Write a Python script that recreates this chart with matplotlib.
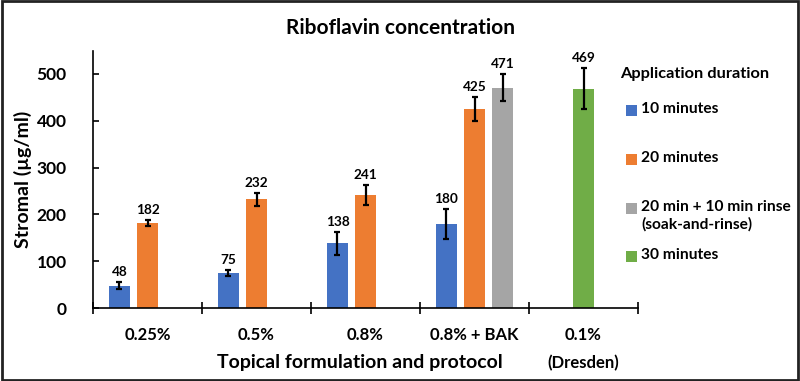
import numpy as np
import matplotlib
matplotlib.use("Agg")
import matplotlib.pyplot as plt
from matplotlib.patches import Rectangle

plt.rcParams['font.family'] = ['Lato', 'DejaVu Sans']
plt.rcParams['font.weight'] = 'bold'

# data
categories = ['0.25%', '0.5%', '0.8%', '0.8% + BAK', '0.1%\n(Dresden)']
series_names = ['10 minutes', '20 minutes',
                '20 min + 10 min rinse\n(soak-and-rinse)', '30 minutes']
colors = ['#4472C4', '#ED7D31', '#A5A5A5', '#70AD47']

min10 = [48, 75, 138, 180, np.nan]
min10_err = [8, 6, 25, 32, np.nan]
min20 = [182, 232, 241, 425, np.nan]
min20_err = [6, 14, 21, 26, np.nan]
rinse = [np.nan, np.nan, np.nan, 471, np.nan]
rinse_err = [np.nan, np.nan, np.nan, 29, np.nan]
min30 = [np.nan, np.nan, np.nan, np.nan, 469]
min30_err = [np.nan, np.nan, np.nan, np.nan, 43]

series = [(min10, min10_err), (min20, min20_err), (rinse, rinse_err), (min30, min30_err)]
# slot within each category: 10 min left, 20 min middle, rinse right, 30 min middle
slots = [-1, 0, 1, 0]

fig = plt.figure(figsize=(8, 3.81), dpi=100)
ax = fig.add_axes([0.11625, 0.1916, 0.68125, 0.6756])

x = np.arange(len(categories))
width = 0.2
step = 0.257

for (vals, errs), slot, col in zip(series, slots, colors):
    vals = np.array(vals, dtype=float)
    errs = np.array(errs, dtype=float)
    m = ~np.isnan(vals)
    xs = x[m] + slot * step
    ax.bar(xs, vals[m], width, color=col, yerr=errs[m],
           error_kw=dict(ecolor='black', elinewidth=1.6, capsize=2.5, capthick=1.6))
    for xi, v, e in zip(xs, vals[m], errs[m]):
        ax.annotate(f'{v:.0f}', (xi, v + e), xytext=(0, 3), textcoords='offset points',
                    ha='center', va='bottom', fontsize=9.8, fontweight='bold')

ax.set_xlim(-0.5, len(categories) - 0.5)
ax.set_ylim(0, 550)
ax.set_yticks(range(0, 501, 100))
ax.tick_params(axis='y', direction='in', length=4, width=1.2, labelsize=12.5, pad=19)

ax.set_xticks(np.arange(-0.5, len(categories)), labels=[''] * (len(categories) + 1))
ax.tick_params(axis='x', which='major', direction='inout', length=9, width=1.2)
ax.set_xticks(x, labels=categories, minor=True)
ax.tick_params(axis='x', which='minor', length=0, labelsize=12, pad=14)
for lbl in ax.get_xticklabels(minor=True):
    lbl.set_linespacing(1.85)

for s in ['top', 'right']:
    ax.spines[s].set_visible(False)
for s in ['left', 'bottom']:
    ax.spines[s].set_linewidth(1.2)

ax.set_ylabel('Stromal (µg/ml)', fontsize=14, fontweight='bold')
ax.yaxis.set_label_coords(-0.112, 0.5)
ax.set_xlabel('Topical formulation and protocol', fontsize=14, fontweight='bold', va='top')
ax.xaxis.set_label_coords(0.49, -0.178)

fig.suptitle('Riboflavin concentration', fontsize=15, fontweight='bold', y=0.926, va='center')

# legend
W, H = 800, 381
fig.text(620 / W, 1 - 74 / H, 'Application duration', fontsize=11.8, fontweight='bold',
         ha='left', va='center')
leg_y = [110, 159, 208, 256]
for name, col, yy in zip(series_names, colors, leg_y):
    fig.patches.append(Rectangle((626 / W, 1 - (yy + 5.5) / H), 11 / W, 11 / H,
                                 facecolor=col, transform=fig.transFigure, figure=fig))
    fig.text(641 / W, 1 - (yy - 8) / H, name, fontsize=11.2, fontweight='bold',
             ha='left', va='top', linespacing=1.3)

# outer border
fig.patches.append(Rectangle((0.002, 0.003), 0.996, 0.994, fill=False, edgecolor='#222222',
                             linewidth=2, transform=fig.transFigure, figure=fig))

fig.savefig('out.png', dpi=100)
